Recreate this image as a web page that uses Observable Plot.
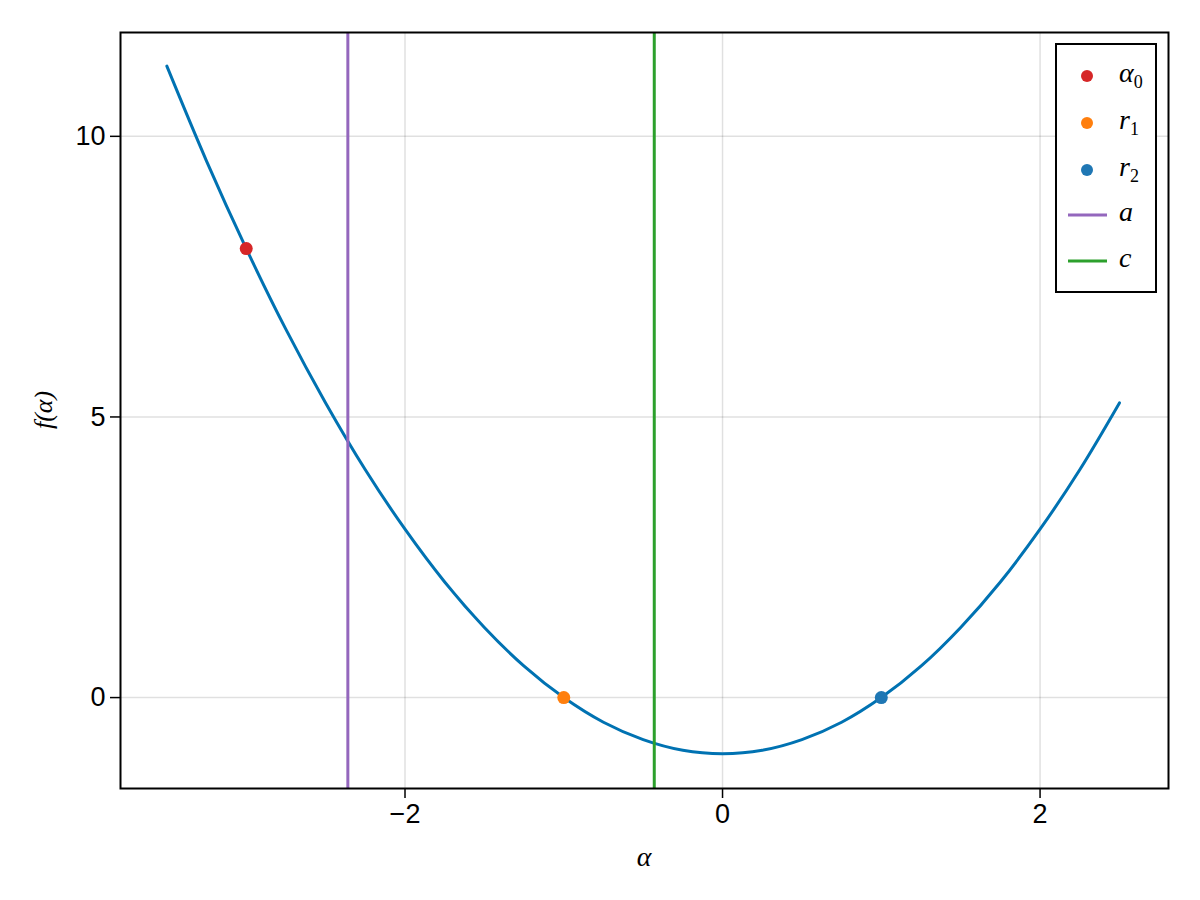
<!DOCTYPE html>
<html><head><meta charset="utf-8">
<script src="https://cdn.jsdelivr.net/npm/d3@7"></script>
<script src="https://cdn.jsdelivr.net/npm/@observablehq/plot@0.6"></script>
<style>body{margin:0;background:#fff} #chart{width:1200px;height:900px}</style>
</head><body><div id="chart"></div>
<script>
// Curve f(α)
const curveX = [-3.5,-3.25,-3.0,-2.75,-2.5,-2.25,-2.0,-1.75,-1.5,-1.25,-1.0,-0.75,-0.5,-0.25,0,0.25,0.5,0.75,1.0,1.25,1.5,1.75,2.0,2.25,2.5];
const curveY = [11.25,9.56,8.0,6.56,5.25,4.06,3.0,2.06,1.25,0.56,0,-0.44,-0.75,-0.94,-1,-0.94,-0.75,-0.44,0,0.56,1.25,2.06,3.0,4.06,5.25];
// Marked points
const pointNames = ["α0","r1","r2"];
const pointX = [-3,-1,1];
const pointY = [8,0,0];
const pointColors = ["#d62728","#ff7f0e","#1f77b4"];
// Vertical lines
const vlineNames = ["a","c"];
const vlineX = [-2.36,-0.43];
const vlineColors = ["#9467bd","#2ca02c"];
// Ticks
const xTicks = [-2,0,2];
const yTicks = [0,5,10];

const curve = curveX.map((x,i)=>({x, y: curveY[i]}));
const points = pointX.map((x,i)=>({name: pointNames[i], x, y: pointY[i], color: pointColors[i]}));
const vlines = vlineX.map((x,i)=>({name: vlineNames[i], x, color: vlineColors[i]}));

const fmt = d => (d < 0 ? "\u2212" : "") + Math.abs(d);
const font = "'Liberation Sans', Arial, sans-serif";
const plot = Plot.plot({
  width: 1200, height: 900,
  marginLeft: 120, marginRight: 32, marginTop: 32, marginBottom: 112,
  style: {fontFamily: font, background: "#fff", overflow: "visible"},
  x: {domain: [-3.792, 2.809], label: null},
  y: {domain: [-1.62, 11.85], label: null},
  marks: [
    Plot.gridX(xTicks, {stroke: "#000", strokeOpacity: 0.12, strokeWidth: 1.5}),
    Plot.gridY(yTicks, {stroke: "#000", strokeOpacity: 0.12, strokeWidth: 1.5}),
    Plot.axisX(xTicks, {tickSize: 10, tickPadding: 5, fontSize: 27, tickFormat: fmt, stroke: "#000", strokeWidth: 1.5, fill: "#000"}),
    Plot.axisY(yTicks, {tickSize: 10, tickPadding: 5, fontSize: 27, tickFormat: fmt, stroke: "#000", strokeWidth: 1.5, fill: "#000"}),
    Plot.line(curve, {x: "x", y: "y", stroke: "#0072b2", strokeWidth: 3, curve: "catmull-rom"}),
    Plot.dot(points, {x: "x", y: "y", fill: d => d.color, r: 6.5, stroke: null}),
    Plot.ruleX(vlines, {x: "x", stroke: d => d.color, strokeWidth: 3}),
    Plot.frame({stroke: "#000", strokeWidth: 2})
  ]
});
document.getElementById("chart").appendChild(plot);

const svg = d3.select(plot);
const serif = "'Liberation Serif', 'DejaVu Serif', serif";
// Axis labels
svg.append("text").attr("x", 644).attr("y", 866).attr("text-anchor", "middle")
  .attr("font-family", serif).attr("font-style", "italic").attr("font-size", 28).attr("fill", "#000").text("α");
svg.append("text").attr("transform", "translate(52,410) rotate(-90)").attr("text-anchor", "middle")
  .attr("font-family", serif).attr("font-style", "italic").attr("font-size", 26).attr("fill", "#000").text("f(α)");

// Legend
const lg = svg.append("g");
lg.append("rect").attr("x", 1056).attr("y", 44).attr("width", 100).attr("height", 248)
  .attr("fill", "#fff").attr("stroke", "#000").attr("stroke-width", 2);
const entries = [
  ...points.map(p => ({type: "dot", name: p.name, color: p.color})),
  ...vlines.map(v => ({type: "line", name: v.name, color: v.color}))
];
const rowY = [76, 123, 170, 215, 261];
entries.forEach((e, i) => {
  const y = rowY[i];
  if (e.type === "dot") {
    lg.append("circle").attr("cx", 1087).attr("cy", y).attr("r", 6).attr("fill", e.color);
  } else {
    lg.append("line").attr("x1", 1068).attr("x2", 1107).attr("y1", y).attr("y2", y)
      .attr("stroke", e.color).attr("stroke-width", 3);
  }
  const t = lg.append("text").attr("x", 1119).attr("y", y + 6).attr("text-anchor", "start")
    .attr("font-family", serif).attr("font-size", 28).attr("fill", "#000");
  t.append("tspan").attr("font-style", "italic").text(e.name[0]);
  if (e.name.length > 1) {
    t.append("tspan").attr("font-size", 18).attr("dy", 6).text(e.name.slice(1));
  }
});
</script>
</body></html>
